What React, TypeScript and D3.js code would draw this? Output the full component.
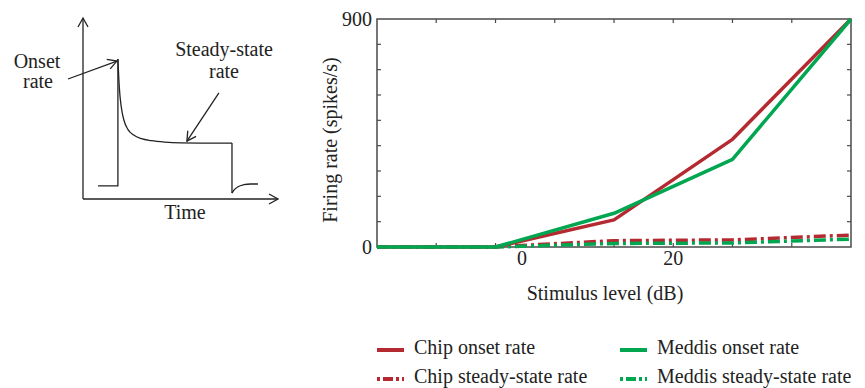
import React, { useEffect, useRef } from "react";
import * as d3 from "d3";

// Stimulus levels (dB) where the model was evaluated
const levels = [-19.17, -3.5, 12.17, 27.83, 43.5];
const chipOnset = [0, 0, 107, 425, 900];
const meddisOnset = [0, 0, 133, 346, 900];
const chipSteady = [0, 1, 25, 28, 47];
const meddisSteady = [0, 0, 14, 16, 31];

// tick marks (dB) and labelled ticks
const xTickMarks = [-11.34, -3.5, 4.33, 12.17, 20, 27.83, 35.67];
const xTickLabels = [0, 20];
const yTickMarks = [100, 200, 300, 400, 500, 600, 700, 800];
const yTickLabels = [0, 900];

// schematic response (time, rate in arbitrary units)
const onsetT = [7.7, 17.9, 17.9];
const onsetR = [7.2, 7.2, 77.3];
const decayT = [17.9, 18.6, 19.6, 21.0, 23.0, 26.0, 30.0, 35.0, 42.0, 50.0, 60.0, 76.4];
const decayR = [77.3, 62.0, 51.0, 43.5, 38.5, 35.3, 33.3, 32.2, 31.4, 31.0, 30.9, 30.9];
const offT = [76.4, 76.4, 77.5, 79.5, 82.5, 86.0, 89.7];
const offR = [30.9, 3.3, 5.0, 6.8, 7.9, 8.3, 8.3];

const RED = "#b52a31";
const GREEN = "#00a650";
const FONT = "'Liberation Serif', 'Times New Roman', 'DejaVu Serif', serif";

const App: React.FC = () => {
  const svgRef = useRef<SVGSVGElement | null>(null);

  useEffect(() => {
    const width = 865;
    const height = 388;
    const svg = d3.select(svgRef.current).attr("width", width).attr("height", height);
    svg.selectAll("*").remove();

    const margin = { top: 19, right: 14, bottom: 141, left: 377 };
    const x = d3.scaleLinear().domain([-19.17, 43.5]).range([margin.left, width - margin.right]);
    const y = d3.scaleLinear().domain([0, 900]).range([height - margin.bottom, margin.top]);

    const frame = "#4a4a4a";
    const tickLen = 4;

    // ---------- schematic on the left ----------
    const sx = d3.scaleLinear().domain([0, 100]).range([83, 278]);
    const sy = d3.scaleLinear().domain([0, 100]).range([199, 18]);
    const sch = svg.append("g");

    const defs = svg.append("defs");
    defs
      .append("marker")
      .attr("id", "open-arrow")
      .attr("viewBox", "-10 -6 12 12")
      .attr("refX", 0)
      .attr("refY", 0)
      .attr("markerWidth", 12)
      .attr("markerHeight", 12)
      .attr("markerUnits", "userSpaceOnUse")
      .attr("orient", "auto")
      .append("path")
      .attr("d", "M-9,-5 L0,0 L-9,5")
      .attr("fill", "none")
      .attr("stroke", "#222")
      .attr("stroke-width", 1.3);

    sch
      .append("line")
      .attr("x1", sx(0)).attr("y1", sy(0))
      .attr("x2", sx(0)).attr("y2", sy(100))
      .attr("stroke", "#222").attr("stroke-width", 1.3)
      .attr("marker-end", "url(#open-arrow)");
    sch
      .append("line")
      .attr("x1", sx(0)).attr("y1", sy(0))
      .attr("x2", sx(100)).attr("y2", sy(0))
      .attr("stroke", "#222").attr("stroke-width", 1.3)
      .attr("marker-end", "url(#open-arrow)");

    const drawSch = (ts: number[], rs: number[], curve: d3.CurveFactory) => {
      const l = d3
        .line<number>()
        .x((_, i) => sx(ts[i]))
        .y((d) => sy(d))
        .curve(curve);
      sch
        .append("path")
        .attr("d", l(rs))
        .attr("fill", "none")
        .attr("stroke", "#222")
        .attr("stroke-width", 1.3)
        .attr("stroke-linejoin", "round");
    };
    drawSch(onsetT, onsetR, d3.curveLinear);
    drawSch(decayT, decayR, d3.curveMonotoneX);
    drawSch(offT.slice(0, 2), offR.slice(0, 2), d3.curveLinear);
    drawSch(offT.slice(1), offR.slice(1), d3.curveMonotoneX);

    // annotation arrows
    sch
      .append("line")
      .attr("x1", sx(-7.7)).attr("y1", sy(66.3))
      .attr("x2", sx(17.4)).attr("y2", sy(76.2))
      .attr("stroke", "#222").attr("stroke-width", 1.3)
      .attr("marker-end", "url(#open-arrow)");
    sch
      .append("line")
      .attr("x1", sx(69.7)).attr("y1", sy(58.6))
      .attr("x2", sx(53.3)).attr("y2", sy(32.0))
      .attr("stroke", "#222").attr("stroke-width", 1.3)
      .attr("marker-end", "url(#open-arrow)");

    const schText = (tx: number, ty: number, s: string) =>
      sch
        .append("text")
        .attr("x", tx)
        .attr("y", ty)
        .attr("text-anchor", "middle")
        .style("font-family", FONT)
        .style("font-size", "20px")
        .attr("fill", "#222")
        .text(s);
    schText(37, 68, "Onset");
    schText(38, 88, "rate");
    schText(224, 56, "Steady-state");
    schText(224, 78, "rate");
    schText(185, 219, "Time");

    // ---------- main chart ----------
    const g = svg.append("g");

    // frame
    g.append("rect")
      .attr("x", margin.left)
      .attr("y", margin.top)
      .attr("width", x.range()[1] - x.range()[0])
      .attr("height", y.range()[0] - y.range()[1])
      .attr("fill", "none")
      .attr("stroke", frame)
      .attr("stroke-width", 1.5);

    // inward ticks on all four sides
    xTickMarks.forEach((v) => {
      g.append("line")
        .attr("x1", x(v)).attr("x2", x(v))
        .attr("y1", y(0)).attr("y2", y(0) - tickLen)
        .attr("stroke", frame).attr("stroke-width", 1.2);
      g.append("line")
        .attr("x1", x(v)).attr("x2", x(v))
        .attr("y1", y(900)).attr("y2", y(900) + tickLen)
        .attr("stroke", frame).attr("stroke-width", 1.2);
    });
    yTickMarks.forEach((v) => {
      g.append("line")
        .attr("x1", x.range()[0]).attr("x2", x.range()[0] + tickLen)
        .attr("y1", y(v)).attr("y2", y(v))
        .attr("stroke", frame).attr("stroke-width", 1.2);
      g.append("line")
        .attr("x1", x.range()[1]).attr("x2", x.range()[1] - tickLen)
        .attr("y1", y(v)).attr("y2", y(v))
        .attr("stroke", frame).attr("stroke-width", 1.2);
    });

    const txt = (sel: d3.Selection<SVGTextElement, unknown, null, undefined>) =>
      sel.style("font-family", FONT).style("font-size", "20px").attr("fill", "#222");

    // tick labels
    xTickLabels.forEach((v) => {
      g.append("text")
        .attr("x", x(v))
        .attr("y", 265)
        .attr("text-anchor", "middle")
        .call(txt)
        .text(v);
    });
    yTickLabels.forEach((v) => {
      g.append("text")
        .attr("x", margin.left - 5)
        .attr("y", y(v) + 7)
        .attr("text-anchor", "end")
        .call(txt)
        .text(v);
    });

    // axis titles
    g.append("text")
      .attr("x", 605)
      .attr("y", 300)
      .attr("text-anchor", "middle")
      .call(txt)
      .text("Stimulus level (dB)");
    g.append("text")
      .attr("transform", `translate(337,140) rotate(-90)`)
      .attr("text-anchor", "middle")
      .call(txt)
      .text("Firing rate (spikes/s)");

    // lines
    const line = d3
      .line<number>()
      .x((_, i) => x(levels[i]))
      .y((d) => y(d));

    const dash = "12,4,3,4";
    const series = [
      { values: chipSteady, color: RED, dash },
      { values: meddisSteady, color: GREEN, dash },
      { values: chipOnset, color: RED, dash: null },
      { values: meddisOnset, color: GREEN, dash: null },
    ];
    series.forEach((s) => {
      g.append("path")
        .attr("d", line(s.values))
        .attr("fill", "none")
        .attr("stroke", s.color)
        .attr("stroke-width", 3.5)
        .attr("stroke-dasharray", s.dash)
        .attr("stroke-linejoin", "round");
    });

    // legend
    const legend = [
      { label: "Chip onset rate", color: RED, dash: null, lx: 377, ly: 354 },
      { label: "Meddis onset rate", color: GREEN, dash: null, lx: 620, ly: 354 },
      { label: "Chip steady-state rate", color: RED, dash: "3,3,10,3", lx: 377, ly: 383 },
      { label: "Meddis steady-state rate", color: GREEN, dash: "3,3,10,3", lx: 620, ly: 383 },
    ];
    legend.forEach((d) => {
      g.append("line")
        .attr("x1", d.lx).attr("x2", d.lx + 27)
        .attr("y1", d.ly - 4).attr("y2", d.ly - 4)
        .attr("stroke", d.color)
        .attr("stroke-width", 4)
        .attr("stroke-dasharray", d.dash);
      g.append("text")
        .attr("x", d.lx + 37)
        .attr("y", d.ly)
        .call(txt)
        .text(d.label);
    });
  }, []);

  return (
    <svg
      ref={svgRef}
      style={{ position: "absolute", left: 0, top: 0, background: "#fff" }}
    ></svg>
  );
};

export default App;
